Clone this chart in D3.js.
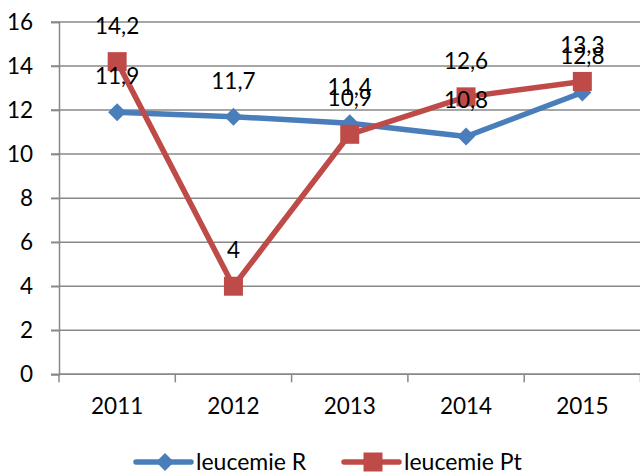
<!DOCTYPE html>
<html>
<head>
<meta charset="utf-8">
<script src="https://cdnjs.cloudflare.com/ajax/libs/d3/7.8.5/d3.min.js"></script>
<style>
  body { margin: 0; background: #fff; }
  text { font-family: Lato, "Open Sans", sans-serif; fill: #000; }
</style>
</head>
<body>
<script>
var years = ['2011', '2012', '2013', '2014', '2015']
var leucemieR = [11.9, 11.7, 11.4, 10.8, 12.8]
var leucemiePt = [14.2, 4, 10.9, 12.6, 13.3]
var seriesNames = ['leucemie R', 'leucemie Pt']
var yTicks = [0, 2, 4, 6, 8, 10, 12, 14, 16]

var width = 640
var height = 475
var plotLeft = 59
var plotRight = 640.5
var plotTop = 22
var plotBottom = 374.3

var colors = ['#4A7EBB', '#BE4B48']

var svg = d3.select('body')
    .append('svg')
    .attr('width', width)
    .attr('height', height)

var x = d3.scaleBand()
    .domain(years)
    .range([plotLeft, plotRight])

var y = d3.scaleLinear()
    .domain([0, 16])
    .range([plotBottom, plotTop])

// gridlines
svg.append('g')
    .selectAll('line')
    .data(yTicks)
    .enter()
    .append('line')
    .attr('x1', plotLeft - 8)
    .attr('x2', width)
    .attr('y1', d => y(d))
    .attr('y2', d => y(d))
    .attr('stroke', '#888')
    .attr('stroke-width', 1.5)

// y axis
var yAxisGroup = svg.append('g')
    .attr('transform', 'translate(' + plotLeft + ',0)')

var yAxis = d3.axisLeft(y)
    .tickValues(yTicks)
    .tickSize(8)
    .tickPadding(18)

yAxis(yAxisGroup)
yAxisGroup.select('.domain').attr('stroke', '#888').attr('stroke-width', 1.5)
yAxisGroup.selectAll('.tick line').attr('stroke', '#888').attr('stroke-width', 1.5)
yAxisGroup.selectAll('text').style('font-size', '22.5px').style('font-family', 'Lato')

// x axis
var xAxisGroup = svg.append('g')
    .attr('transform', 'translate(0,' + plotBottom + ')')

var xAxis = d3.axisBottom(x)
    .tickSize(0)
    .tickPadding(24)

xAxis(xAxisGroup)
xAxisGroup.select('.domain').remove()
xAxisGroup.selectAll('text').style('font-size', '22.5px').style('font-family', 'Lato')

// x tick marks on band edges
svg.append('g')
    .selectAll('line')
    .data(years.concat(['end']))
    .enter()
    .append('line')
    .attr('x1', (d, i) => plotLeft + i * x.bandwidth())
    .attr('x2', (d, i) => plotLeft + i * x.bandwidth())
    .attr('y1', plotBottom)
    .attr('y2', plotBottom + 8)
    .attr('stroke', '#888')
    .attr('stroke-width', 1.5)

svg.append('line')
    .attr('x1', plotLeft)
    .attr('x2', width)
    .attr('y1', plotBottom)
    .attr('y2', plotBottom)
    .attr('stroke', '#888')
    .attr('stroke-width', 1.5)

function diamond(r) {
    return 'M0,' + (-r) + 'L' + r + ',0L0,' + r + 'L' + (-r) + ',0Z'
}

function square(r) {
    return 'M' + (-r) + ',' + (-r) + 'H' + r + 'V' + r + 'H' + (-r) + 'Z'
}

var markers = [diamond(9), square(9.5)]

function plotSeries(values, color, marker) {
    var line = d3.line()
        .x((d, i) => x(years[i]) + x.bandwidth() / 2)
        .y(d => y(d))

    svg.append('path')
        .datum(values)
        .attr('fill', 'none')
        .attr('stroke', color)
        .attr('stroke-width', 5.5)
        .attr('stroke-linejoin', 'round')
        .attr('d', line)

    svg.append('g')
        .selectAll('path')
        .data(values)
        .enter()
        .append('path')
        .attr('d', marker)
        .attr('fill', color)
        .attr('transform', (d, i) => 'translate(' + (x(years[i]) + x.bandwidth() / 2) + ',' + y(d) + ')')
}

plotSeries(leucemieR, colors[0], markers[0])
plotSeries(leucemiePt, colors[1], markers[1])

// data labels
function plotLabels(values) {
    svg.append('g')
        .selectAll('text')
        .data(values)
        .enter()
        .append('text')
        .attr('x', (d, i) => x(years[i]) + x.bandwidth() / 2)
        .attr('y', d => y(d) - 28)
        .attr('text-anchor', 'middle')
        .style('font-size', '22.5px')
        .text(d => String(d).replace('.', ','))
}

plotLabels(leucemieR)
plotLabels(leucemiePt)

// legend
var legendX = [136, 344]
var legend = svg.append('g')
    .selectAll('g')
    .data(seriesNames)
    .enter()
    .append('g')
    .attr('transform', (d, i) => 'translate(' + legendX[i] + ',462)')

legend.append('line')
    .attr('x1', 0)
    .attr('x2', 55)
    .attr('stroke', (d, i) => colors[i])
    .attr('stroke-width', 5.5)
    .attr('stroke-linecap', 'round')

legend.append('path')
    .attr('d', (d, i) => markers[i])
    .attr('fill', (d, i) => colors[i])
    .attr('transform', 'translate(29,0)')

legend.append('text')
    .attr('x', 60)
    .attr('y', 8)
    .style('font-size', '23px')
    .text(d => d)
</script>
</body>
</html>
